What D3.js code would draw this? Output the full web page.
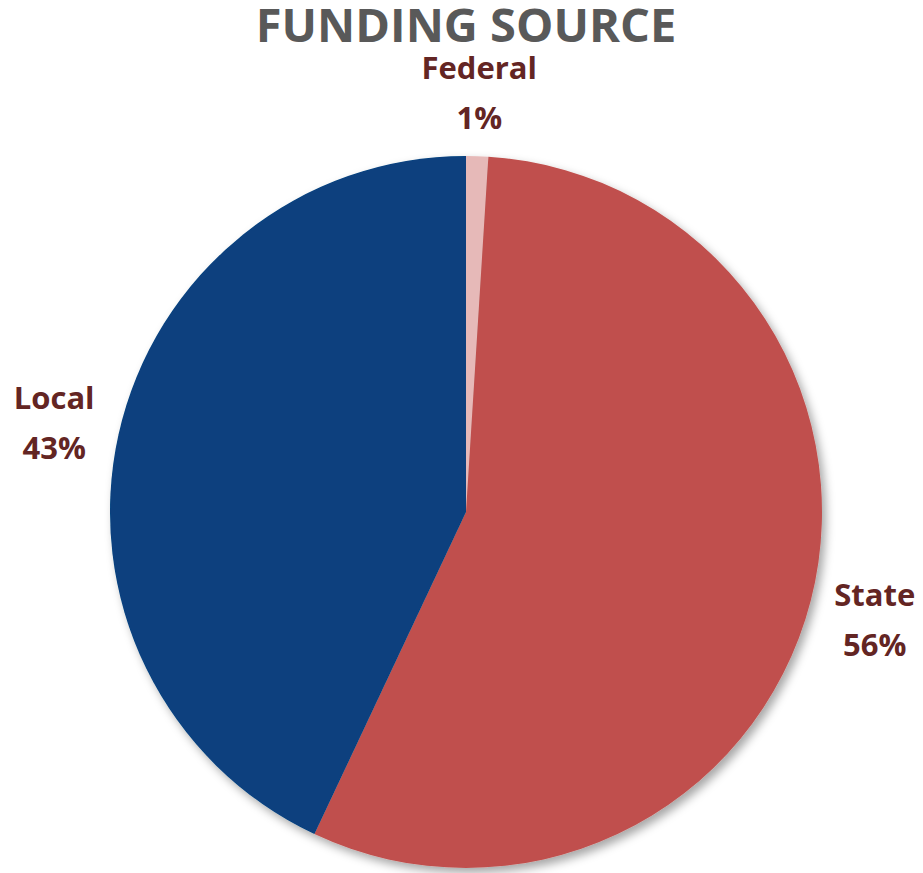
<html>
<head>
<meta charset="UTF-8">
<script src="https://d3js.org/d3.v7.min.js"></script>
<style>
  body { margin: 0; background: #fff; }
  text { font-family: "Open Sans", Lato, sans-serif; font-weight: bold; }
</style>
</head>
<body>
<div id="chart"></div>
<script>
// data
var categories = ["Federal", "State", "Local"];
var values = [1, 56, 43];
var colors = ["#E6B9B8", "#C0504D", "#07407E"];

var width = 923, height = 873;
var cx = 466, cy = 512, radius = 356, labelR = 422;

var svg = d3.select("#chart").append("svg")
    .attr("width", width)
    .attr("height", height);

var defs = svg.append("defs");
var filt = defs.append("filter").attr("id", "shadow")
    .attr("x", "-10%").attr("y", "-10%").attr("width", "120%").attr("height", "120%");
filt.append("feDropShadow")
    .attr("dx", 4).attr("dy", 5)
    .attr("stdDeviation", 5)
    .attr("flood-color", "#000")
    .attr("flood-opacity", 0.35);

svg.append("text")
    .attr("x", cx)
    .attr("y", 42)
    .attr("text-anchor", "middle")
    .style("font-size", "47px")
    .style("fill", "#595959")
    .text("FUNDING SOURCE");

var data = categories.map(function(c, i) { return {name: c, value: values[i], color: colors[i]}; });

var pie = d3.pie().sort(null).value(function(d) { return d.value; });
var arc = d3.arc().innerRadius(0).outerRadius(radius);
var labelArc = d3.arc().innerRadius(labelR).outerRadius(labelR);

var g = svg.append("g").attr("transform", "translate(" + cx + "," + cy + ")");

var slices = g.append("g").attr("filter", "url(#shadow)");
slices.selectAll("path")
    .data(pie(data))
  .enter().append("path")
    .attr("d", arc)
    .style("fill", function(d) { return d.data.color; });

var labels = g.selectAll(".label")
    .data(pie(data))
  .enter().append("text")
    .attr("class", "label")
    .attr("transform", function(d) { return "translate(" + labelArc.centroid(d) + ")"; })
    .attr("text-anchor", "middle")
    .style("font-size", "31px")
    .style("fill", "#632523");

labels.append("tspan")
    .attr("x", 0)
    .attr("dy", "-0.35em")
    .text(function(d) { return d.data.name; });
labels.append("tspan")
    .attr("x", 0)
    .attr("dy", "1.6em")
    .text(function(d) { return d.data.value + "%"; });
</script>
</body>
</html>
